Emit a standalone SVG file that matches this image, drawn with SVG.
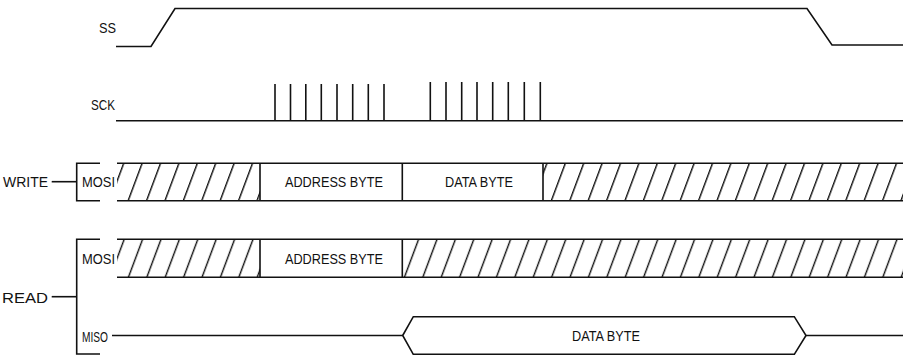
<svg xmlns="http://www.w3.org/2000/svg" width="903" height="355" viewBox="0 0 903 355">
<style>
  .ln { fill: none; stroke: #111; stroke-width: 1.6; stroke-linejoin: miter; }
  .box { fill: #fff; stroke: #111; stroke-width: 1.6; }
  .t { font-family: "Liberation Sans", Arial, sans-serif; font-size: 15px; fill: #111; }
</style>
<defs>
  <pattern id="hatchW" patternUnits="userSpaceOnUse" width="18.4" height="20" patternTransform="skewX(-20.5)">
    <rect x="0" y="0" width="1.5" height="20" fill="#111"/>
  </pattern>
  <pattern id="hatchR" patternUnits="userSpaceOnUse" width="18.4" height="20" patternTransform="skewX(-20.5)">
    <rect x="10.5" y="0" width="1.5" height="20" fill="#111"/>
  </pattern>
</defs>
<rect width="903" height="355" fill="#fff"/>

<g id="ss">
  <text class="t" x="99" y="33" textLength="17" lengthAdjust="spacingAndGlyphs">SS</text>
  <polyline class="ln" points="116,46.5 151,46.5 175,8.5 807,8.5 832,45 903,45"/>
</g>

<g id="sck">
  <text class="t" x="91" y="110" textLength="24" lengthAdjust="spacingAndGlyphs">SCK</text>
  <line class="ln" x1="116" y1="120.7" x2="903" y2="120.7"/>
  <path class="ln" d="M275,120.7V84 M290.5,120.7V84 M305.8,120.7V84 M321.3,120.7V84 M337,120.7V84 M352.7,120.7V84 M368.3,120.7V84 M384,120.7V84
                      M430.3,120.7V82 M446,120.7V82 M461.7,120.7V82 M477,120.7V82 M492.7,120.7V82 M508.3,120.7V82 M524.3,120.7V82 M540.3,120.7V82"/>
</g>

<g id="write">
  <text class="t" x="3" y="187" textLength="45" lengthAdjust="spacingAndGlyphs">WRITE</text>
  <path class="ln" d="M100,163.3H76.7V200.7H100"/>
  <text class="t" x="82" y="187" textLength="33" lengthAdjust="spacingAndGlyphs">MOSI</text>
  <rect x="117" y="163.3" width="143" height="37.4" fill="url(#hatchW)"/>
  <rect x="543" y="163.3" width="362" height="37.4" fill="url(#hatchW)"/>
  <path class="ln" d="M117,163.3H905 M117,200.7H905 M260,163.3V200.7 M402.3,163.3V200.7 M543,163.3V200.7"/>
  <text class="t" x="285" y="187" textLength="98" lengthAdjust="spacingAndGlyphs">ADDRESS BYTE</text>
  <text class="t" x="445" y="187" textLength="68" lengthAdjust="spacingAndGlyphs">DATA BYTE</text>
</g>

<g id="read">
  <text class="t" x="2" y="303" textLength="46" lengthAdjust="spacingAndGlyphs">READ</text>
  <path class="ln" d="M100,239.3H76.7V354H100"/>
  <text class="t" x="82" y="264" textLength="33" lengthAdjust="spacingAndGlyphs">MOSI</text>
  <rect x="117" y="239.3" width="143" height="38" fill="url(#hatchR)"/>
  <rect x="402.3" y="239.3" width="503" height="38" fill="url(#hatchR)"/>
  <path class="ln" d="M117,239.3H905 M117,277.3H905 M260,239.3V277.3 M402.3,239.3V277.3"/>
  <text class="t" x="285" y="263.5" textLength="98" lengthAdjust="spacingAndGlyphs">ADDRESS BYTE</text>
</g>

<g id="miso">
  <text class="t" x="82" y="342" textLength="26" lengthAdjust="spacingAndGlyphs">MISO</text>
  <path class="ln" d="M112,335.5H402.7 M806,335.5H903"/>
  <polygon class="ln" points="402.7,335.5 413.3,316.7 794.3,316.7 806,335.5 794.3,354.3 413.3,354.3"/>
  <text class="t" x="572" y="341" textLength="68" lengthAdjust="spacingAndGlyphs">DATA BYTE</text>
</g>

<g id="connectors">
  <line class="ln" x1="51.7" y1="181.7" x2="76.7" y2="181.7"/>
  <line class="ln" x1="51.7" y1="296.7" x2="76.7" y2="296.7"/>
</g>
</svg>
